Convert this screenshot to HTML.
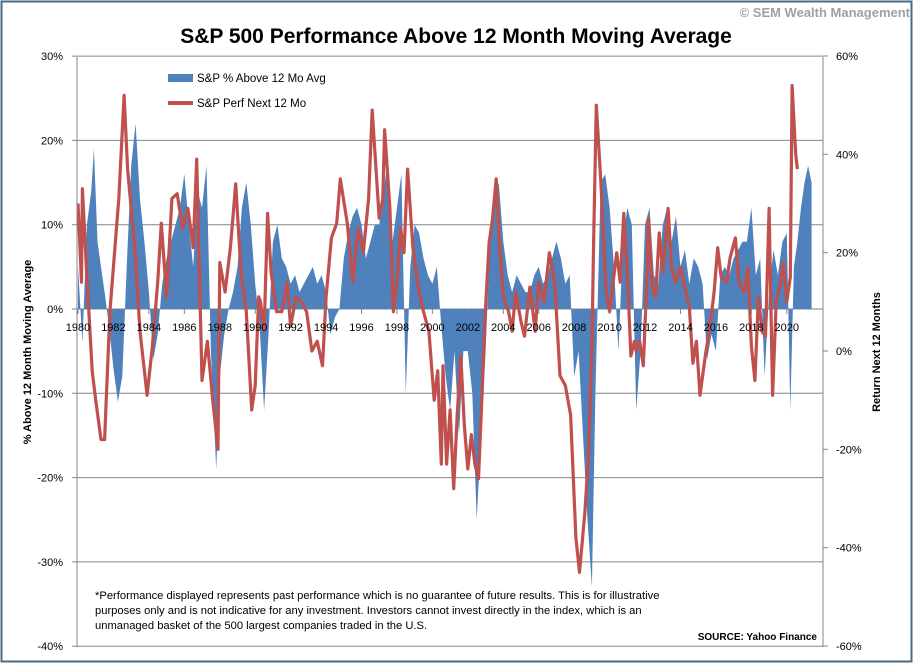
<!DOCTYPE html>
<html><head><meta charset="utf-8">
<style>
body{margin:0;background:#fff;}
#wrap{position:relative;width:914px;height:664px;overflow:hidden;font-family:"Liberation Sans",sans-serif;}
svg text{font-family:"Liberation Sans",sans-serif;}
</style></head>
<body>
<div id="wrap">
<svg id="chart" width="914" height="664">
  <rect x="1.5" y="1.5" width="910" height="660" fill="#fff" stroke="#4a6a8a" stroke-width="2"/>
  <text x="910" y="17" text-anchor="end" font-size="13" font-weight="bold" fill="#a0a0a0">© SEM Wealth Management</text>
  <text x="456" y="43" text-anchor="middle" font-size="21" font-weight="bold" fill="#000">S&amp;P 500 Performance Above 12 Month Moving Average</text>
  <g id="grid"></g>
  <g id="blue"></g>
  <g id="red"></g>
  <g id="axes"></g>
  <rect x="168" y="74" width="25" height="8" fill="#4f81bd"/>
  <text x="197" y="82" font-size="11.5" fill="#000">S&amp;P % Above 12 Mo Avg</text>
  <line x1="168" y1="103" x2="193" y2="103" stroke="#c0504d" stroke-width="4"/>
  <text x="197" y="107" font-size="11.5" fill="#000">S&amp;P Perf Next 12 Mo</text>
  <text transform="translate(31,352) rotate(-90)" text-anchor="middle" font-size="11" font-weight="bold">% Above 12 Month Moving Average</text>
  <text transform="translate(880,352) rotate(-90)" text-anchor="middle" font-size="11" font-weight="bold">Return Next 12 Months</text>
  <g font-size="11.2" fill="#000">
    <text x="95" y="599">*Performance displayed represents past performance which is no guarantee of future results.  This is for illustrative</text>
    <text x="95" y="614">purposes only and is not indicative for any investment.  Investors cannot invest directly in the index, which is an</text>
    <text x="95" y="629">unmanaged basket of the 500 largest companies traded in the U.S.</text>
  </g>
  <text x="817" y="640" text-anchor="end" font-size="10" font-weight="bold">SOURCE:  Yahoo Finance</text>
</svg>
</div>
<script>
const leftTicks = [30,20,10,0,-10,-20,-30,-40];
const rightTicks = [60,40,20,0,-20,-40,-60];
const yearTicks = [1980,1982,1984,1986,1988,1990,1992,1994,1996,1998,2000,2002,2004,2006,2008,2010,2012,2014,2016,2018,2020];
const blueDates = [1980,1980.25,1980.5,1980.75,1980.9,1981.1,1981.3,1981.5,1981.75,1982,1982.25,1982.5,1982.75,1983,1983.25,1983.5,1983.75,1984,1984.25,1984.5,1984.75,1985,1985.25,1985.5,1985.75,1986,1986.25,1986.5,1986.75,1987,1987.25,1987.5,1987.8,1988,1988.25,1988.5,1988.75,1989,1989.25,1989.5,1989.75,1990,1990.25,1990.5,1990.75,1991,1991.25,1991.5,1991.75,1992,1992.25,1992.5,1992.75,1993,1993.25,1993.5,1993.75,1994,1994.25,1994.5,1994.75,1995,1995.25,1995.5,1995.75,1996,1996.25,1996.5,1996.75,1997,1997.25,1997.5,1997.75,1998,1998.25,1998.5,1998.75,1999,1999.25,1999.5,1999.75,2000,2000.25,2000.5,2000.75,2001,2001.25,2001.5,2001.75,2002,2002.25,2002.5,2002.75,2003,2003.25,2003.5,2003.75,2004,2004.25,2004.5,2004.75,2005,2005.25,2005.5,2005.75,2006,2006.25,2006.5,2006.75,2007,2007.25,2007.5,2007.75,2008,2008.25,2008.5,2008.75,2009,2009.2,2009.5,2009.75,2010,2010.25,2010.5,2010.75,2011,2011.25,2011.5,2011.75,2012,2012.25,2012.5,2012.75,2013,2013.25,2013.5,2013.75,2014,2014.25,2014.5,2014.75,2015,2015.25,2015.5,2015.75,2016,2016.25,2016.5,2016.75,2017,2017.25,2017.5,2017.75,2018,2018.25,2018.5,2018.75,2019,2019.25,2019.5,2019.75,2020,2020.2,2020.4,2020.6,2020.8,2021,2021.2,2021.4];
const blueValues = [5,-4,10,14,19,8,5,2,-2,-7,-11,-8,5,17,22,13,8,2,-6,-3,3,6,8,10,12,16,10,5,14,12,17,-5,-19,-8,-3,0,2,5,12,15,10,3,-2,-12,-3,8,10,6,5,3,4,2,3,4,5,3,4,2,-3,-1,0,6,9,11,12,10,6,8,10,10,14,18,8,12,16,-10,5,10,9,6,4,3,5,-2,-8,-12,-5,-15,-5,-5,-10,-25,-15,-5,8,13,15,8,4,2,4,3,2,2,4,5,3,4,6,8,6,3,4,-8,-5,-15,-25,-33,-10,15,16,12,5,-5,8,12,10,-12,-5,10,12,4,3,10,12,8,11,5,7,3,6,5,3,-6,-3,-5,4,5,4,6,7,8,8,12,4,6,-8,2,7,4,8,9,-12,5,8,12,15,17,15];
const redDates = [1980,1980.2,1980.25,1980.5,1980.8,1981,1981.3,1981.5,1981.8,1982.3,1982.6,1982.8,1983.2,1983.5,1983.9,1984.2,1984.5,1984.7,1985,1985.3,1985.6,1985.9,1986.2,1986.5,1986.7,1987,1987.3,1987.6,1987.9,1988,1988.3,1988.6,1988.9,1989.2,1989.5,1989.8,1990,1990.2,1990.3,1990.5,1990.7,1990.9,1991.2,1991.5,1991.8,1992,1992.3,1992.6,1992.9,1993.2,1993.5,1993.8,1994,1994.3,1994.6,1994.8,1995.2,1995.5,1995.8,1996.1,1996.4,1996.6,1996.8,1997,1997.2,1997.3,1997.6,1997.8,1998,1998.2,1998.4,1998.6,1998.9,1999.2,1999.5,1999.8,2000.1,2000.3,2000.5,2000.6,2000.8,2001,2001.2,2001.4,2001.6,2001.8,2002,2002.2,2002.4,2002.6,2002.8,2003,2003.2,2003.4,2003.6,2003.8,2004,2004.3,2004.5,2004.7,2005,2005.2,2005.5,2005.8,2006,2006.3,2006.6,2006.9,2007.2,2007.5,2007.8,2008.1,2008.3,2008.6,2008.8,2009,2009.1,2009.25,2009.5,2009.8,2010,2010.2,2010.4,2010.6,2010.8,2011,2011.2,2011.4,2011.5,2011.7,2011.9,2012.1,2012.2,2012.4,2012.6,2012.8,2013,2013.3,2013.5,2013.7,2014,2014.3,2014.5,2014.7,2014.9,2015.1,2015.4,2015.7,2015.9,2016.1,2016.3,2016.6,2016.8,2017.1,2017.3,2017.6,2017.8,2018,2018.2,2018.4,2018.6,2018.8,2019,2019.2,2019.4,2019.6,2019.8,2020,2020.2,2020.3,2020.5,2020.6];
const redValues = [30,14,33,15,-4,-10,-18,-18,8,31,52,37,21,4,-9,1,14,26,11,31,32,25,29,21,39,-6,2,-10,-20,18,12,21,34,16,8,-12,-7,11,10,4,28,16,8,8,14,5,11,10,8,0,2,-3,11,23,26,35,26,14,25,20,31,49,38,27,31,45,29,8,14,25,20,37,21,13,8,4,-10,-4,-23,-3,-23,-12,-28,-13,-1,-15,-24,-17,-23,-26,-9,9,22,27,35,21,11,8,4,12,6,3,13,4,14,10,20,14,-5,-7,-13,-38,-45,-33,-22,1,23,50,35,12,8,14,20,14,28,16,-1,2,0,2,-3,14,27,13,11,24,16,29,17,14,17,12,9,-2.5,2,-9,-1,6,12,21,15,14,19,23,14,12,17,1,-6,11,4,3,29,-9,10,13,18,10,15,54,40,37];

const X0=77, X1=823, Y0=57, Y1=647;
const xYear = y => 78 + (y-1980)*17.72;
const yL = v => 309 - v*8.43;
const yR = v => 351 - v*4.917;
const NS='http://www.w3.org/2000/svg';
function mk(tag, attrs, parent){const e=document.createElementNS(NS,tag);for(const k in attrs)e.setAttribute(k,attrs[k]);parent.appendChild(e);return e;}
const grid=document.getElementById('grid'), axes=document.getElementById('axes');
leftTicks.forEach(t=>{
  const gl=mk('line',{x1:72,x2:X1,y1:yL(t),y2:yL(t),stroke:'#868686','stroke-width':1},grid);
  
  
  const tx=mk('text',{x:63,y:yL(t)+4,'text-anchor':'end','font-size':11},axes);
  tx.textContent=t+'%';
  
  
});
rightTicks.forEach(t=>{
  const tk=mk('line',{x1:X1,x2:X1+5,y1:yR(t),y2:yR(t),stroke:'#868686'},axes);
  
  
  const tx=mk('text',{x:836,y:yR(t)+4,'font-size':11},axes);
  tx.textContent=t+'%';
  
  
});
const al=mk('line',{x1:X0,x2:X0,y1:Y0,y2:Y1,stroke:'#868686'},axes);


const ar=mk('line',{x1:X1,x2:X1,y1:Y0,y2:Y1,stroke:'#868686'},axes);


yearTicks.forEach(y=>{
  const tk=mk('line',{x1:xYear(y),x2:xYear(y),y1:309,y2:314,stroke:'#868686'},axes);
  
  
  const tx=mk('text',{x:xYear(y),y:331,'text-anchor':'middle','font-size':11},axes);
  tx.textContent=y;
  
  
});
let d='M'+xYear(blueDates[0])+','+yL(0);
blueDates.forEach((t,i)=>{d+=' L'+xYear(t).toFixed(1)+','+yL(blueValues[i]).toFixed(1);});
d+=' L'+xYear(blueDates[blueDates.length-1])+','+yL(0)+' Z';
const area=mk('path',{d:d,fill:'#4f81bd'},document.getElementById('blue'));


let r='';
redDates.forEach((t,i)=>{r+=(i?' L':'M')+xYear(t).toFixed(1)+','+yR(redValues[i]).toFixed(1);});
const line=mk('path',{d:r,fill:'none',stroke:'#c0504d','stroke-width':3.2,'stroke-linejoin':'round'},document.getElementById('red'));


</script>
</body></html>
